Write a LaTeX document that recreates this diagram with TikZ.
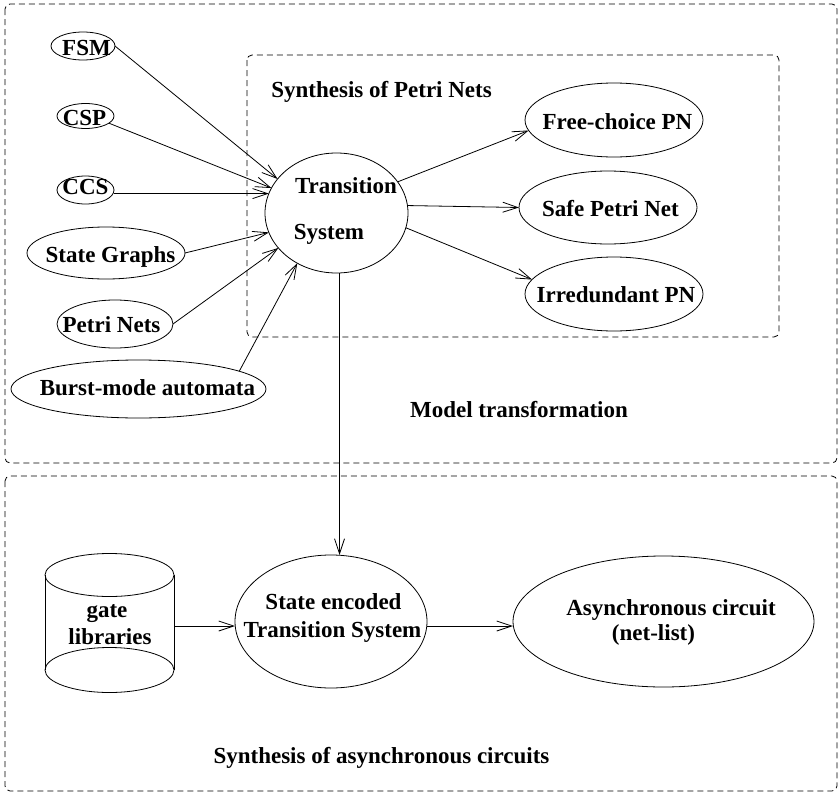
\documentclass[tikz,border=0pt]{standalone}
\usepackage{fontspec}
\setmainfont{Liberation Serif}
\usetikzlibrary{shapes.geometric,arrows.meta,calc}
\begin{document}
\begin{tikzpicture}[x=1pt,y=-1pt,line width=0.8pt,
  ell/.style={draw, ellipse, inner sep=0pt, outer sep=0pt},
  lbl/.style={font=\bfseries\fontsize{23}{27}\selectfont, inner sep=0pt, text height=15pt, text depth=0pt},
  arr/.style={-{Straight Barb[length=15pt,width=10pt]}},
  box/.style={draw, dash pattern=on 6pt off 4pt, rounded corners=5pt}]
\useasboundingbox (0,0) rectangle (838,795);

% frames
\draw[box] (5,4) rectangle (837,463);
\draw[box] (5,476) rectangle (837,791);
\draw[box] (247,55) rectangle (779,337);

% left sources
\node[ell, minimum width=64pt, minimum height=28pt] (FSM) at (83,46) {};
\node[lbl] (tFSM) at (86.5,48) {FSM};
\node[ell, minimum width=57pt, minimum height=25pt] (CSP) at (85.5,116) {};
\node[lbl] (tCSP) at (84.5,117.5) {CSP};
\node[ell, minimum width=57pt, minimum height=28pt] (CCS) at (85.5,190) {};
\node[lbl] (tCCS) at (85.5,186.5) {CCS};
\node[ell, minimum width=158pt, minimum height=52pt] (SG) at (106,253) {};
\node[lbl] (tSG) at (110.5,255) {State Graphs};
\node[ell, minimum width=116pt, minimum height=48pt] (PN) at (115,324) {};
\node[lbl] (tPN) at (111.5,324.5) {Petri Nets};
\node[ell, minimum width=255pt, minimum height=58pt] (Burst) at (138.5,389) {};
\node[lbl] (tBurst) at (147.5,387.5) {Burst-mode automata};

% transition system
\node[ell, minimum width=143pt, minimum height=120pt] (TS) at (336.5,213) {};
\node[lbl] (tTS1) at (346,186) {Transition};
\node[lbl] (tTS2) at (329,232) {System};

\node[lbl, anchor=west] (tSPN) at (271,89.5) {Synthesis of Petri Nets};

% targets
\node[ell, minimum width=178pt, minimum height=74pt] (FC) at (614,120) {};
\node[lbl] (tFC) at (617.5,121.5) {Free-choice PN};
\node[ell, minimum width=178pt, minimum height=73pt] (Safe) at (608,207.5) {};
\node[lbl] (tSafe) at (610.5,208.5) {Safe Petri Net};
\node[ell, minimum width=178pt, minimum height=74pt] (Irr) at (614,294) {};
\node[lbl] (tIrr) at (616,294.5) {Irredundant PN};

\node[lbl] (tMT) at (519,410) {Model transformation};

% arrows into TS
\draw[arr] (FSM.east) -- (TS.150);
\draw[arr] (CSP.343) -- (TS.159);
\draw[arr] (CCS.east |- TS.164) -- (TS.164);
\draw[arr] (SG.east) -- (TS.196);
\draw[arr] (PN.east) -- (TS.211);
\draw[arr] (Burst.10) -- (TS.232);

% arrows out of TS
\draw[arr] (TS.27) -- (FC.187);
\draw[arr] (TS.6) -- (Safe.west);
\draw[arr] (TS.348) -- (Irr.170);

% bottom part
\draw (109.5,575) ellipse [x radius=64.5, y radius=21.5];
\draw (45,575) -- (45,670) (174,575) -- (174,670);
\draw (109.5,670) ellipse [x radius=64.5, y radius=22.5];
\coordinate (cylE) at (174,626);
\node[lbl] (tgate) at (107,609.5) {gate};
\node[lbl] (tlib) at (110,636.5) {libraries};

\node[ell, minimum width=192pt, minimum height=133pt] (SE) at (331,621.5) {};
\node[lbl] (tSE1) at (333.5,602) {State encoded};
\node[lbl] (tSE2) at (332.5,630) {Transition System};

\node[ell, minimum width=301pt, minimum height=131pt] (Async) at (663.5,621.5) {};
\node[lbl] (tA1) at (671,607.5) {Asynchronous circuit};
\node[lbl] (tA2) at (653.5,633) {(net-list)};

\node[lbl] (tSAC) at (381.5,755.5) {Synthesis of asynchronous circuits};

\coordinate (vt) at ([xshift=3pt]TS.south);
\draw[arr] (vt) -- (vt |- SE.north);
\draw[arr] (cylE) -- (cylE -| SE.west);
\coordinate (seE) at (SE.east |- cylE);
\draw[arr] (seE) -- (seE -| Async.west);
\end{tikzpicture}
\end{document}
